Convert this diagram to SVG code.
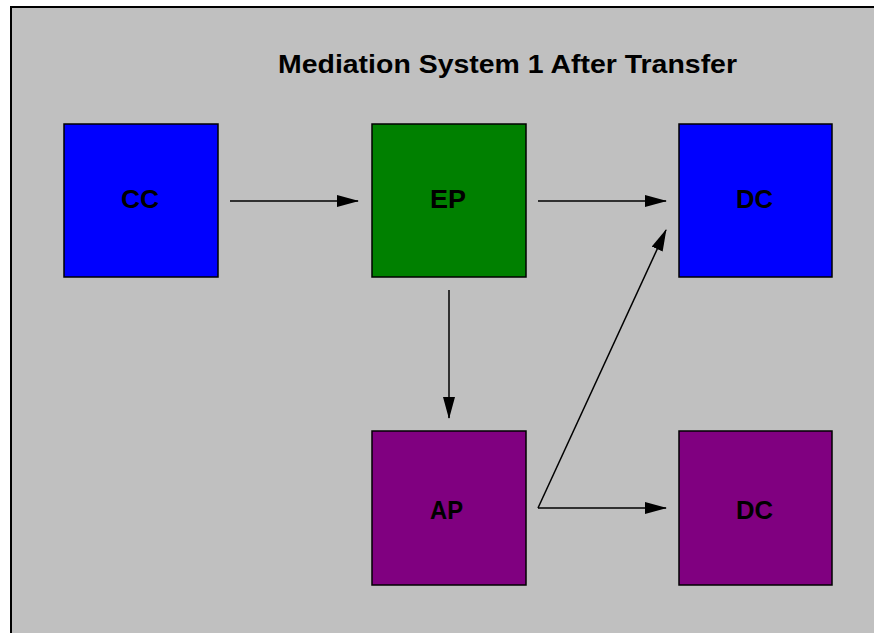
<svg xmlns="http://www.w3.org/2000/svg" width="874" height="633" viewBox="0 0 874 633">
<style>
.box{stroke:#000;stroke-width:1.5}
.lbl{font-family:"Liberation Sans",Arial,sans-serif;font-weight:bold;font-size:26px;fill:#000;text-anchor:middle}
.title{font-family:"Liberation Sans",Arial,sans-serif;font-weight:bold;font-size:25px;fill:#000;text-anchor:middle}
.conn line{stroke:#000;stroke-width:1.5;marker-end:url(#ah)}
</style>
<defs>
<marker id="ah" viewBox="0 0 22 12" refX="21" refY="6" markerWidth="22" markerHeight="12" markerUnits="userSpaceOnUse" orient="auto">
<path d="M0,0 L22,6 L0,12 Z" fill="#000"/>
</marker>
</defs>
<rect x="0" y="0" width="874" height="633" fill="#fff"/>
<rect x="11" y="7" width="870" height="640" fill="#c0c0c0" stroke="#000" stroke-width="2"/>
<text class="title" x="507.5" y="73" textLength="459" lengthAdjust="spacingAndGlyphs">Mediation System 1 After Transfer</text>
<g id="cc"><rect class="box" x="64" y="124" width="154" height="153" fill="#0000ff"/><text class="lbl" x="140" y="208" textLength="38" lengthAdjust="spacingAndGlyphs">CC</text></g>
<g id="ep"><rect class="box" x="372" y="124" width="154" height="153" fill="#008000"/><text class="lbl" x="448" y="208" textLength="36" lengthAdjust="spacingAndGlyphs">EP</text></g>
<g id="dc1"><rect class="box" x="679" y="124" width="153" height="153" fill="#0000ff"/><text class="lbl" x="754.5" y="208" textLength="37" lengthAdjust="spacingAndGlyphs">DC</text></g>
<g id="ap"><rect class="box" x="372" y="431" width="154" height="154" fill="#800080"/><text class="lbl" x="446.5" y="519" textLength="33" lengthAdjust="spacingAndGlyphs">AP</text></g>
<g id="dc2"><rect class="box" x="679" y="431" width="153" height="154" fill="#800080"/><text class="lbl" x="754.5" y="519" textLength="37" lengthAdjust="spacingAndGlyphs">DC</text></g>
<g class="conn" id="connectors">
<line x1="230" y1="201" x2="358" y2="201"/>
<line x1="538" y1="201" x2="666" y2="201"/>
<line x1="449" y1="290" x2="449" y2="418"/>
<line x1="538" y1="508" x2="666" y2="508"/>
<line x1="538" y1="508" x2="666" y2="230"/>
</g>
</svg>
